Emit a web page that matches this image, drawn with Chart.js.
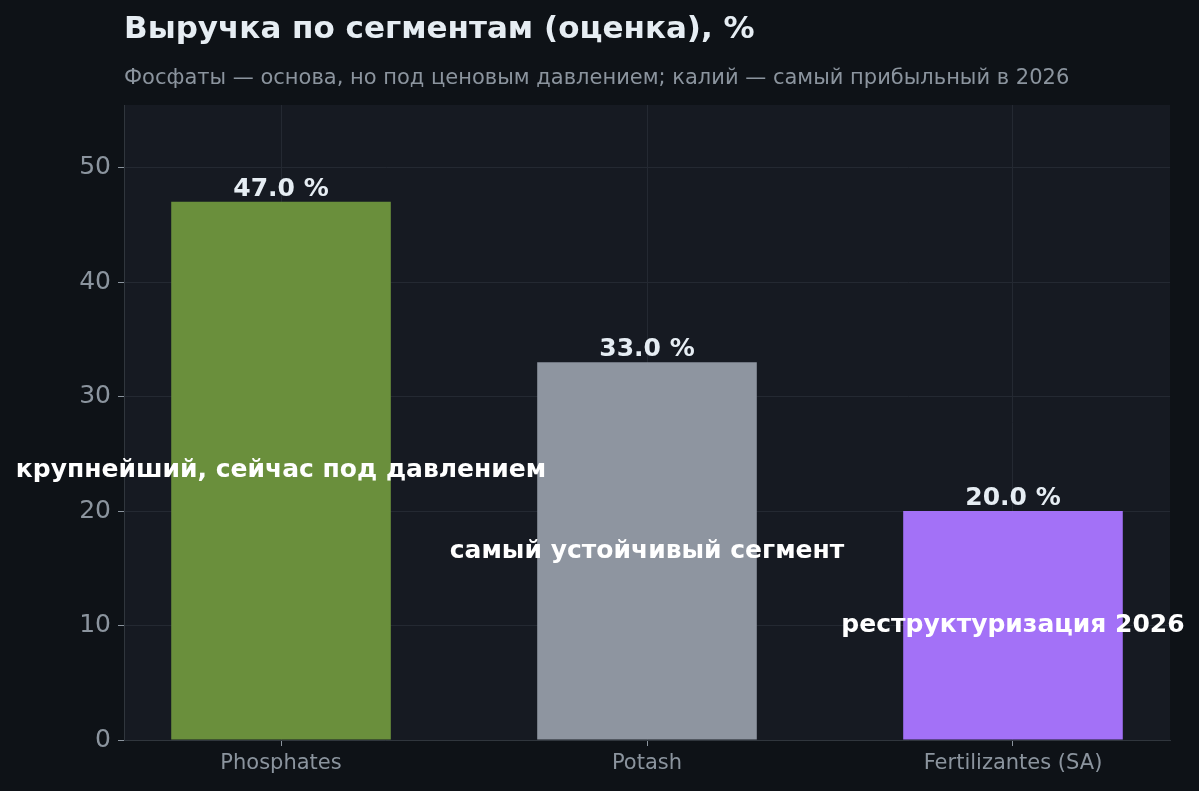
<!DOCTYPE html>
<html><head><meta charset="utf-8">
<script src="https://cdn.jsdelivr.net/npm/chart.js@4"></script>
<style>html,body{margin:0;padding:0;background:#0e1217;}canvas{display:block;}</style>
</head><body>
<div style="width:1199px;height:791px;position:relative"><canvas id="c"></canvas></div>
<script>
const categories = ["Phosphates", "Potash", "Fertilizantes (SA)"];
const revenueShare = [47.0, 33.0, 20.0];
const barNotes = ["крупнейший, сейчас под давлением", "самый устойчивый сегмент", "реструктуризация 2026"];
const barColors = ["#6a8f3c", "#8e95a0", "#a371f7"];
const yTicks = [0, 10, 20, 30, 40, 50];
const titleText = "Выручка по сегментам (оценка), %";
const subtitleText = "Фосфаты — основа, но под ценовым давлением; калий — самый прибыльный в 2026";

const FONT = "'DejaVu Sans'";

const bgPlugin = {
  id: 'bg',
  beforeDraw(chart) {
    const {ctx, chartArea: a} = chart;
    ctx.save();
    ctx.fillStyle = '#0e1217';
    ctx.fillRect(0, 0, chart.width, chart.height);
    ctx.fillStyle = '#161a22';
    ctx.fillRect(a.left, a.top, a.right - a.left, a.bottom - a.top);
    ctx.restore();
  },
  afterDraw(chart) {
    const {ctx, chartArea: a} = chart;
    ctx.save();
    ctx.textAlign = 'left';
    ctx.textBaseline = 'alphabetic';
    ctx.fillStyle = '#e6edf3';
    ctx.font = "bold 31px " + FONT;
    ctx.fillText(titleText, a.left, 38);
    ctx.fillStyle = '#8b949e';
    ctx.font = "21px " + FONT;
    ctx.fillText(subtitleText, a.left, 84);
    ctx.restore();
  }
};

const labelPlugin = {
  id: 'barLabels',
  afterDatasetsDraw(chart) {
    const {ctx} = chart;
    const meta = chart.getDatasetMeta(0);
    const ys = chart.scales.y;
    ctx.save();
    ctx.textAlign = 'center';
    meta.data.forEach((bar, i) => {
      const v = revenueShare[i];
      ctx.fillStyle = '#e6edf3';
      ctx.font = "bold 25px " + FONT;
      ctx.textBaseline = 'alphabetic';
      ctx.fillText(v.toFixed(1) + ' %', bar.x, bar.y - 6);
      ctx.fillStyle = '#ffffff';
      ctx.font = "bold 25px " + FONT;
      ctx.textBaseline = 'middle';
      ctx.fillText(barNotes[i], bar.x, ys.getPixelForValue(v / 2));
    });
    ctx.restore();
  }
};

function build() {
new Chart(document.getElementById('c'), {
  type: 'bar',
  data: {
    datasets: [{
      data: revenueShare.map((v, i) => ({x: i, y: v})),
      backgroundColor: barColors,
      borderWidth: 0,
      barPercentage: 0.6,
      categoryPercentage: 1.0
    }]
  },
  options: {
    responsive: true,
    maintainAspectRatio: false,
    animation: false,
    devicePixelRatio: 1,
    layout: {padding: {top: 105, right: 29, left: 0, bottom: 0}},
    plugins: {legend: {display: false}, tooltip: {enabled: false}, title: {display: false}},
    scales: {
      x: {
        type: 'linear',
        min: -0.429,
        max: 2.429,
        offset: false,
        afterFit(s) { s.height = 51; },
        afterBuildTicks(s) { s.ticks = categories.map((c, i) => ({value: i})); },
        ticks: {
          callback: (v) => categories[v] ?? '',
          color: '#8b949e',
          font: {family: FONT, size: 21},
          padding: 5,
          maxRotation: 0
        },
        grid: {offset: false, color: '#242932', lineWidth: 1, tickLength: 6, tickColor: '#8b949e', drawOnChartArea: true},
        border: {color: '#30363d', width: 1}
      },
      y: {
        min: 0,
        max: 55.46,
        afterFit(s) { s.width = 124; },
        afterBuildTicks(s) { s.ticks = yTicks.map(v => ({value: v})); },
        ticks: {
          color: '#8b949e',
          font: {family: FONT, size: 25},
          padding: 7
        },
        grid: {color: '#242932', lineWidth: 1, tickLength: 6, tickColor: '#8b949e'},
        border: {color: '#30363d', width: 1}
      }
    }
  },
  plugins: [bgPlugin, labelPlugin]
});
}
Promise.all([
  document.fonts.load("bold 31px 'DejaVu Sans'"),
  document.fonts.load("21px 'DejaVu Sans'")
]).then(build, build);
</script>
</body></html>
